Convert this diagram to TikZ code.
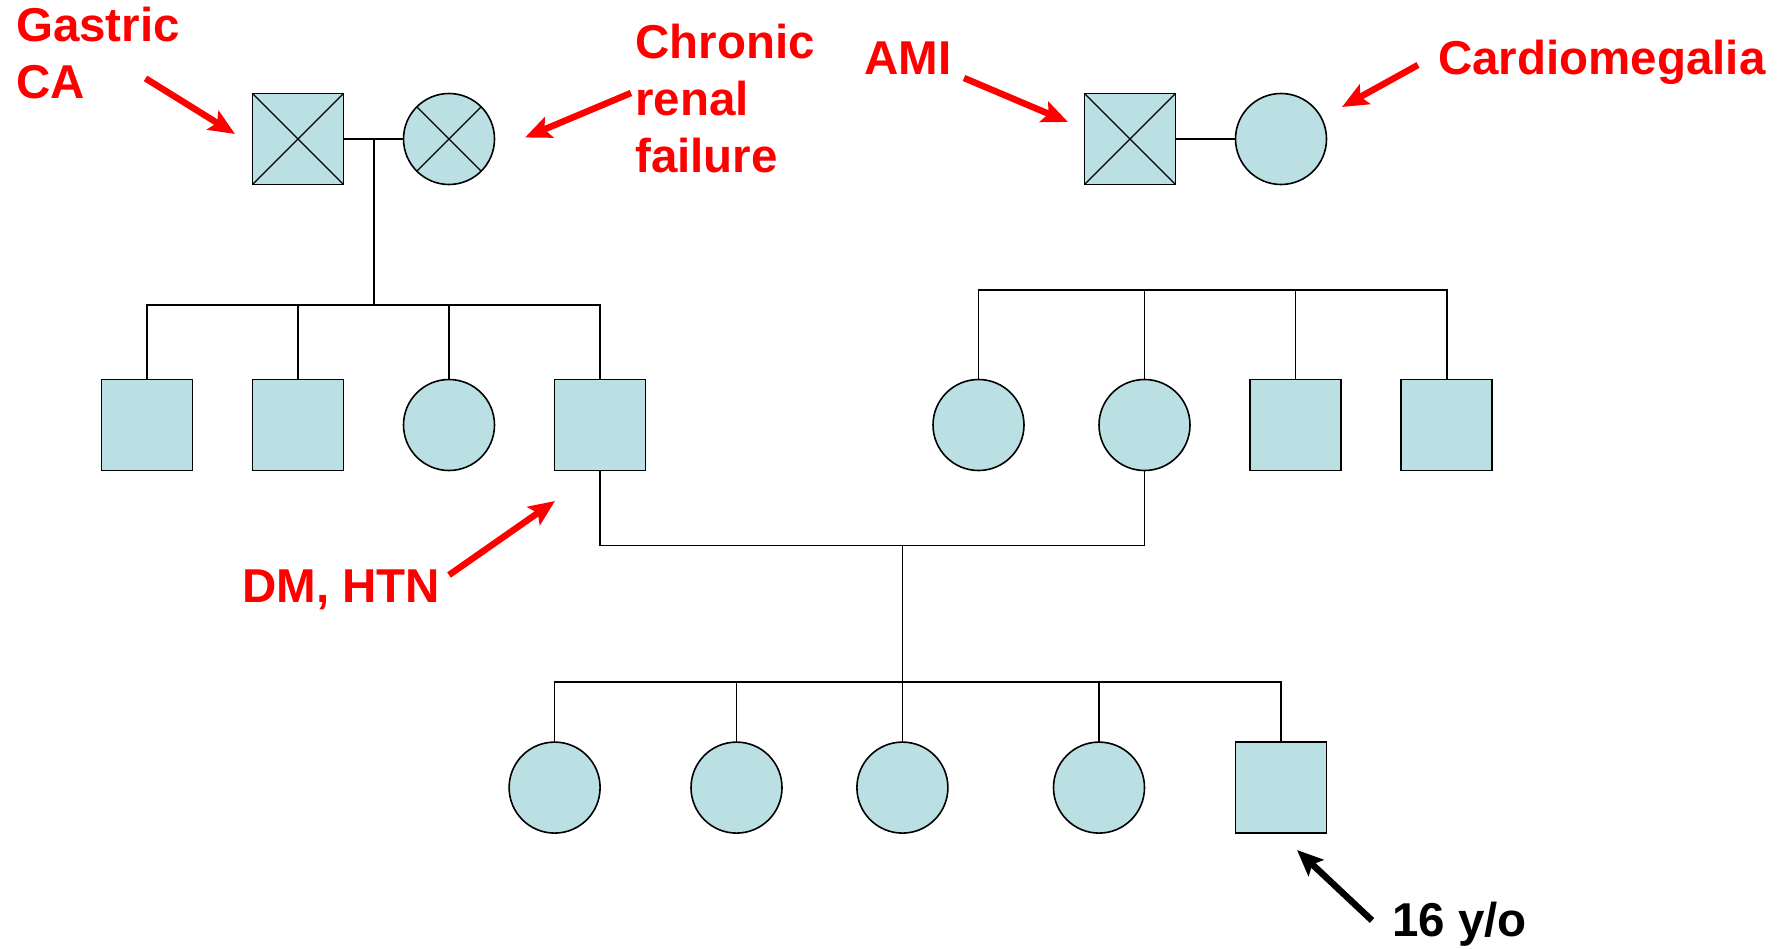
\documentclass[tikz,border=0pt]{standalone}
\usepackage{fontspec}
\setmainfont{Liberation Sans}
\usetikzlibrary{arrows.meta}
\definecolor{pedfill}{HTML}{BBE0E3}
\definecolor{pedred}{HTML}{FF0000}
\tikzset{
  male/.style={rectangle, draw, fill=pedfill, line width=1.6pt, minimum size=91pt, inner sep=0pt, outer sep=0pt},
  female/.style={circle, draw, fill=pedfill, line width=1.6pt, minimum size=91pt, inner sep=0pt, outer sep=0pt},
  rel/.style={line width=1.6pt},
  cross/.style={line width=1.2pt},
  lbl/.style={inner sep=0pt, font=\fontsize{47.5}{57}\selectfont\bfseries, align=left},
  redlbl/.style={lbl, text=pedred},
  redarrow/.style={line width=6.5pt, draw=pedred, -{Stealth[length=26pt,width=22pt,inset=5pt]}},
  blackarrow/.style={line width=6.5pt, draw=black, -{Stealth[length=26pt,width=22pt,inset=5pt]}},
}
\begin{document}
\begin{tikzpicture}[x=1pt,y=-1pt]
\useasboundingbox (0,0) rectangle (1782,949);
% generation 1
\node[male] (gf1) at (298,139) {};
\node[female] (gm1) at (449,139) {};
\node[male] (gf2) at (1130,139) {};
\node[female] (gm2) at (1281,139) {};
\draw[cross] (gf1.north west) -- (gf1.south east) (gf1.north east) -- (gf1.south west);
\draw[cross] (gm1.north west) -- (gm1.south east) (gm1.north east) -- (gm1.south west);
\draw[cross] (gf2.north west) -- (gf2.south east) (gf2.north east) -- (gf2.south west);
\draw[rel] (gf1.east) -- (gm1.west);
\draw[rel] (gf2.east) -- (gm2.west);
\coordinate (m1) at (374,139);
\coordinate (sib1) at (374,305);
\draw[rel] (m1) -- (sib1);
% generation 2 left
\node[male] (a1) at (147,425) {};
\node[male] (a2) at (298,425) {};
\node[female] (a3) at (449,425) {};
\node[male] (a4) at (600,425) {};
\foreach \n in {a1,a2,a3,a4} \draw[rel] (\n.north) |- (sib1);
% generation 2 right
\coordinate (sib2) at (1144.5,290);
\node[female] (b1) at (978.5,425) {};
\node[female] (b2) at (1144.5,425) {};
\node[male] (b3) at (1295.6,425) {};
\node[male] (b4) at (1446.7,425) {};
\foreach \n in {b1,b2,b3,b4} \draw[rel] (\n.north) |- (sib2);
% marriage gen 2
\coordinate (m2) at (902.4,545.5);
\coordinate (sib3) at (902.4,682);
\draw[rel] (a4.south) |- (m2) -| (b2.south);
\draw[rel] (m2) -- (sib3);
% generation 3
\node[female] (c1) at (554.6,787.6) {};
\node[female] (c2) at (736.5,787.6) {};
\node[female] (c3) at (902.4,787.6) {};
\node[female] (c4) at (1099,787.6) {};
\node[male] (c5) at (1281,787.6) {};
\foreach \n in {c1,c2,c3,c4,c5} \draw[rel] (\n.north) |- (sib3);
% labels
\node[redlbl, anchor=north west] (tgas) at (16,7) {Gastric\\CA};
\node[redlbl, anchor=north west] (tcrf) at (635,24) {Chronic\\renal\\failure};
\node[redlbl, anchor=base west] (tami) at (864,75) {AMI};
\node[redlbl, anchor=base west] (tcar) at (1438,75) {Cardiomegalia};
\node[redlbl, anchor=base west] (tdm) at (242,602) {DM, HTN};
\node[lbl, anchor=base west] (t16) at (1392,936.5) {16 y/o};
% arrows
\coordinate (s1) at (145.5,78.4); \coordinate (e1) at (235,134);
\coordinate (s2) at (631,93);   \coordinate (e2) at (525,137.5);
\coordinate (s3) at (964,78);   \coordinate (e3) at (1068,122);
\coordinate (s4) at (1418,65);  \coordinate (e4) at (1342,107);
\coordinate (s5) at (449,575);  \coordinate (e5) at (555,501);
\coordinate (s6) at (1372,920.5); \coordinate (e6) at (1297,850);
\draw[redarrow] (s1) -- (e1);
\draw[redarrow] (s2) -- (e2);
\draw[redarrow] (s3) -- (e3);
\draw[redarrow] (s4) -- (e4);
\draw[redarrow] (s5) -- (e5);
\draw[blackarrow] (s6) -- (e6);
\end{tikzpicture}
\end{document}
